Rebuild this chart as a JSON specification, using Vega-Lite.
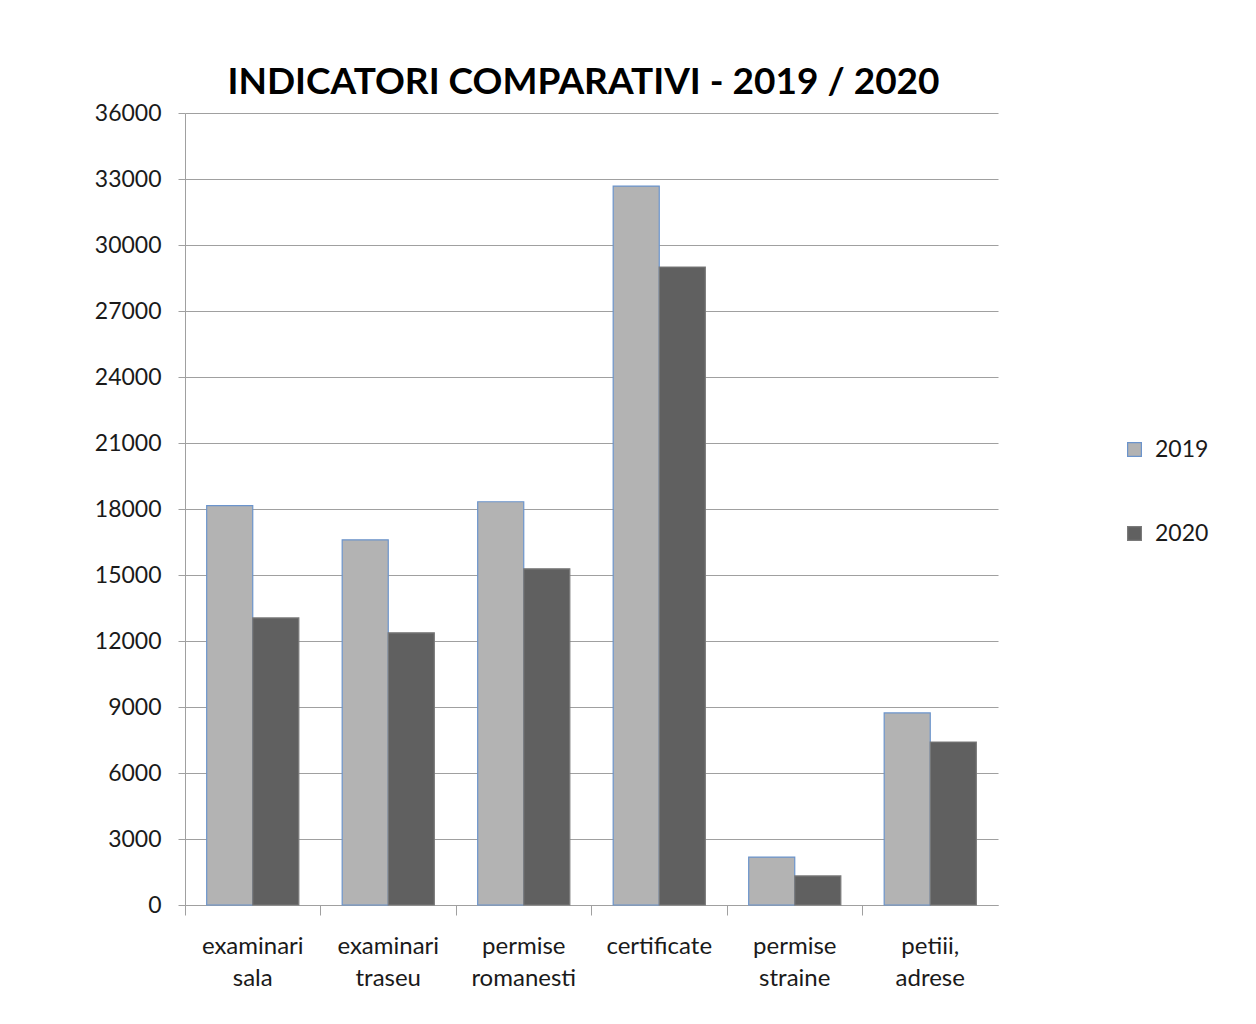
{
  "$schema": "https://vega.github.io/schema/vega-lite/v6.json",
  "width": 813,
  "height": 792,
  "autosize": {"type": "none"},
  "padding": {"left": 185, "top": 113, "right": 258, "bottom": 119},
  "background": "white",
  "title": {
    "text": "INDICATORI COMPARATIVI  - 2019 / 2020",
    "font": "Lato",
    "fontSize": 37,
    "fontWeight": "bold",
    "color": "#000000",
    "anchor": "middle",
    "offset": 0,
    "dx": -8
  },
  "data": {
    "values": [
      {"categorie": "examinari sala", "an": "2019", "valoare": 18150},
      {"categorie": "examinari sala", "an": "2020", "valoare": 13050},
      {"categorie": "examinari traseu", "an": "2019", "valoare": 16600},
      {"categorie": "examinari traseu", "an": "2020", "valoare": 12370},
      {"categorie": "permise romanesti", "an": "2019", "valoare": 18330},
      {"categorie": "permise romanesti", "an": "2020", "valoare": 15280},
      {"categorie": "certificate", "an": "2019", "valoare": 32680},
      {"categorie": "certificate", "an": "2020", "valoare": 29000},
      {"categorie": "permise straine", "an": "2019", "valoare": 2180},
      {"categorie": "permise straine", "an": "2020", "valoare": 1320},
      {"categorie": "petiii, adrese", "an": "2019", "valoare": 8730},
      {"categorie": "petiii, adrese", "an": "2020", "valoare": 7410}
    ]
  },
  "mark": {"type": "bar", "strokeWidth": 1.2},
  "encoding": {
    "x": {
      "field": "categorie",
      "type": "nominal",
      "sort": null,
      "title": null,
      "scale": {"paddingInner": 0.32, "paddingOuter": 0.16},
      "axis": {
        "labelAngle": 0,
        "labelExpr": "split(datum.label, ' ')",
        "labelFont": "Lato",
        "labelFontSize": 24,
        "labelColor": "#1a1a1a",
        "labelLineHeight": 32,
        "labelPadding": 19,
        "labelBaseline": "top",
        "tickSize": 10,
        "tickColor": "#a0a0a0",
        "domainColor": "#a0a0a0",
        "bandPosition": -0.235,
        "grid": false
      }
    },
    "xOffset": {"field": "an", "type": "nominal", "scale": {"paddingInner": 0, "paddingOuter": 0}},
    "y": {
      "field": "valoare",
      "type": "quantitative",
      "title": null,
      "scale": {"domain": [0, 36000], "nice": false},
      "axis": {
        "values": [0, 3000, 6000, 9000, 12000, 15000, 18000, 21000, 24000, 27000, 30000, 33000, 36000],
        "format": "d",
        "labelFont": "Lato",
        "labelFontSize": 23,
        "labelColor": "#1a1a1a",
        "labelPadding": 17,
        "tickSize": 7,
        "tickColor": "#a0a0a0",
        "domainColor": "#a0a0a0",
        "gridColor": "#a0a0a0",
        "gridWidth": 1.2
      }
    },
    "color": {
      "field": "an",
      "type": "nominal",
      "title": null,
      "scale": {"domain": ["2019", "2020"], "range": ["#b3b3b3", "#606060"]},
      "legend": {
        "orient": "none",
        "legendX": 938,
        "legendY": 325,
        "symbolType": "square",
        "symbolSize": 190,
        "symbolStrokeWidth": 1.2,
        "labelFont": "Lato",
        "labelFontSize": 23,
        "labelColor": "#1a1a1a",
        "rowPadding": 60,
        "labelOffset": 9
      }
    },
    "stroke": {
      "field": "an",
      "type": "nominal",
      "scale": {"domain": ["2019", "2020"], "range": ["#6b94cc", "#7a7a7a"]},
      "legend": null
    }
  },
  "config": {
    "view": {"stroke": null}
  }
}
